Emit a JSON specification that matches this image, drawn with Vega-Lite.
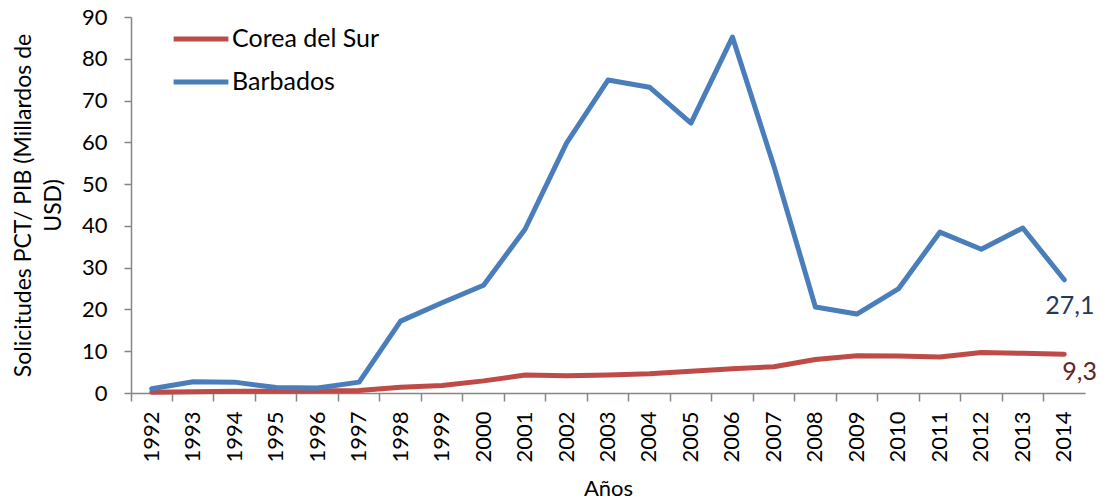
{
  "$schema": "https://vega.github.io/schema/vega-lite/v6.json",
  "autosize": {"type": "none"},
  "width": 954,
  "height": 376,
  "padding": {"left": 131, "top": 17, "right": 18, "bottom": 111},
  "config": {
    "view": {"stroke": null},
    "font": "Lato",
    "axis": {"labelFont": "Lato", "titleFont": "Lato", "labelColor": "#000000", "titleColor": "#000000", "domainColor": "#868686", "tickColor": "#868686", "domainWidth": 1.5, "tickWidth": 1.5, "grid": false, "titleFontWeight": "normal"}
  },
  "datasets": {
    "series": [
      {"year": "1992", "series": "Corea del Sur", "value": 0.2},
      {"year": "1993", "series": "Corea del Sur", "value": 0.3},
      {"year": "1994", "series": "Corea del Sur", "value": 0.4},
      {"year": "1995", "series": "Corea del Sur", "value": 0.4},
      {"year": "1996", "series": "Corea del Sur", "value": 0.5},
      {"year": "1997", "series": "Corea del Sur", "value": 0.6},
      {"year": "1998", "series": "Corea del Sur", "value": 1.4},
      {"year": "1999", "series": "Corea del Sur", "value": 1.8},
      {"year": "2000", "series": "Corea del Sur", "value": 2.9},
      {"year": "2001", "series": "Corea del Sur", "value": 4.3},
      {"year": "2002", "series": "Corea del Sur", "value": 4.1},
      {"year": "2003", "series": "Corea del Sur", "value": 4.3},
      {"year": "2004", "series": "Corea del Sur", "value": 4.6},
      {"year": "2005", "series": "Corea del Sur", "value": 5.2},
      {"year": "2006", "series": "Corea del Sur", "value": 5.8},
      {"year": "2007", "series": "Corea del Sur", "value": 6.3},
      {"year": "2008", "series": "Corea del Sur", "value": 8.0},
      {"year": "2009", "series": "Corea del Sur", "value": 8.9},
      {"year": "2010", "series": "Corea del Sur", "value": 8.85},
      {"year": "2011", "series": "Corea del Sur", "value": 8.6},
      {"year": "2012", "series": "Corea del Sur", "value": 9.7},
      {"year": "2013", "series": "Corea del Sur", "value": 9.5},
      {"year": "2014", "series": "Corea del Sur", "value": 9.3},
      {"year": "1992", "series": "Barbados", "value": 1.0},
      {"year": "1993", "series": "Barbados", "value": 2.7},
      {"year": "1994", "series": "Barbados", "value": 2.6},
      {"year": "1995", "series": "Barbados", "value": 1.3},
      {"year": "1996", "series": "Barbados", "value": 1.2},
      {"year": "1997", "series": "Barbados", "value": 2.6},
      {"year": "1998", "series": "Barbados", "value": 17.2},
      {"year": "1999", "series": "Barbados", "value": 21.6},
      {"year": "2000", "series": "Barbados", "value": 25.8},
      {"year": "2001", "series": "Barbados", "value": 39.2},
      {"year": "2002", "series": "Barbados", "value": 59.8},
      {"year": "2003", "series": "Barbados", "value": 74.9},
      {"year": "2004", "series": "Barbados", "value": 73.2},
      {"year": "2005", "series": "Barbados", "value": 64.6},
      {"year": "2006", "series": "Barbados", "value": 85.2},
      {"year": "2007", "series": "Barbados", "value": 54.3},
      {"year": "2008", "series": "Barbados", "value": 20.6},
      {"year": "2009", "series": "Barbados", "value": 18.9},
      {"year": "2010", "series": "Barbados", "value": 24.9},
      {"year": "2011", "series": "Barbados", "value": 38.5},
      {"year": "2012", "series": "Barbados", "value": 34.4},
      {"year": "2013", "series": "Barbados", "value": 39.5},
      {"year": "2014", "series": "Barbados", "value": 27.1}
    ],
    "labels": [
      {"year": "2014", "series": "Barbados", "value": 27.1, "label": "27,1"},
      {"year": "2014", "series": "Corea del Sur", "value": 9.3, "label": "9,3"}
    ]
  },
  "layer": [
    {
      "data": {"name": "series"},
      "mark": {"type": "line", "strokeWidth": 5, "strokeCap": "round", "strokeJoin": "round"},
      "encoding": {
        "x": {
          "field": "year", "type": "ordinal", "bandPosition": 0.5,
          "scale": {"type": "band", "paddingInner": 0, "paddingOuter": 0},
          "axis": {"title": "Años", "titleFontSize": 22, "titlePadding": 16, "labelAngle": 270, "labelFontSize": 22, "labelPadding": 10, "bandPosition": 0, "tickSize": 8, "labelAlign": "right", "labelBaseline": "middle"}
        },
        "y": {
          "field": "value", "type": "quantitative",
          "scale": {"domain": [0, 90], "nice": false},
          "axis": {"values": [0, 10, 20, 30, 40, 50, 60, 70, 80, 90], "title": ["Solicitudes PCT/ PIB (Millardos de", "USD)"], "titleFontSize": 23, "titleLineHeight": 30, "titlePadding": 16, "labelFontSize": 22, "labelPadding": 17, "tickSize": 7}
        },
        "color": {
          "field": "series", "type": "nominal",
          "scale": {"domain": ["Corea del Sur", "Barbados"], "range": ["#BE4B48", "#4A7EBB"]},
          "legend": {"title": null, "orient": "none", "legendX": 40, "legendY": -8, "symbolType": "stroke", "symbolSize": 3000, "symbolStrokeWidth": 5, "labelFontSize": 25, "labelFont": "Lato", "labelColor": "#000000", "rowPadding": -7, "padding": 0, "labelOffset": 1}
        }
      }
    },
    {
      "data": {"name": "labels"},
      "transform": [{"filter": "datum.series === 'Barbados'"}],
      "mark": {"type": "text", "fontSize": 25, "font": "Lato", "align": "left", "baseline": "middle", "dx": -19, "dy": 26, "color": "#1F3A60"},
      "encoding": {
        "x": {"field": "year", "type": "ordinal", "bandPosition": 0.5},
        "y": {"field": "value", "type": "quantitative"},
        "text": {"field": "label"}
      }
    },
    {
      "data": {"name": "labels"},
      "transform": [{"filter": "datum.series === 'Corea del Sur'"}],
      "mark": {"type": "text", "fontSize": 25, "font": "Lato", "align": "left", "baseline": "middle", "dx": -2, "dy": 18, "color": "#632523"},
      "encoding": {
        "x": {"field": "year", "type": "ordinal", "bandPosition": 0.5},
        "y": {"field": "value", "type": "quantitative"},
        "text": {"field": "label"}
      }
    }
  ]
}
